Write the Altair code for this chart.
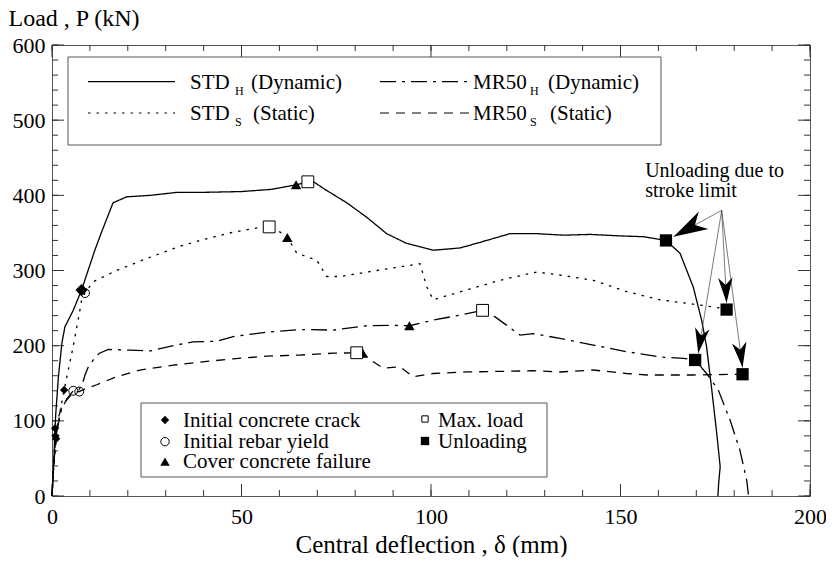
import math
import altair as alt
import pandas as pd

FONT = "Liberation Serif, Times New Roman, Times, serif"
W, H = 758, 451
XMAX, YMAX = 200, 600

# ---------------- data ----------------
std_h_x = [0, 0.5, 0.8, 1.0, 1.7, 2.6, 3.4, 5.6, 7.8, 11.3, 13, 16.1, 19.7, 26, 33, 40, 50, 58,
           64.4, 67.5, 69, 72, 77.8, 83, 88.3, 93.6, 100.6, 107.7, 114.7, 120.8, 128, 135, 142,
           150, 156, 162, 165.7, 169.2, 171.4, 172.7, 174, 175.4, 176.3, 175.9, 175.7]
std_h_y = [0, 50, 90, 110, 159, 203, 225, 247, 274, 327, 350, 390, 398, 400, 404, 404, 405, 408,
           414, 418, 418, 408, 390, 371, 349, 336, 327, 330, 340, 349, 349, 347, 348,
           346, 345, 340, 323, 278, 234, 199, 145, 83, 39, 17, 0]

std_s_x = [0, 0.5, 1.2, 2.1, 3.2, 4.3, 5.6, 6.9, 7.8, 8.7, 10.9, 17, 24, 33, 39, 47.8, 55.7, 57.3,
           60.2, 62.1, 64.6, 69.8, 72.5, 76, 85.7, 97.1, 98.9, 100.6, 105.9, 118.2, 127.9, 134,
           142.8, 151.6, 160.4, 171, 176.3, 178]
std_s_y = [0, 40, 80, 112, 141, 168, 199, 234, 260, 270, 285, 300, 314, 331, 340, 351, 358, 358,
           351, 344, 323, 314, 292, 292, 300, 309, 278, 261, 269, 287, 298, 294,
           287, 272, 261, 254, 250, 248]

mr50_h_x = [0, 0.6, 1.2, 2.5, 4, 5.6, 7.2, 8.2, 8.7, 9.6, 10.9, 12.5, 14.9, 20.6, 26, 32, 37.2,
            43.5, 47.8, 56.6, 65.4, 74.2, 83, 90, 94.3, 100.6, 107.7, 113.6, 117, 120, 123.5,
            127, 134, 142.8, 151.6, 160.4, 166.6, 169.7, 172.7, 175.8, 178.9, 181.5, 183.3, 183.8]
mr50_h_y = [0, 50, 85, 115, 130, 140, 142, 152, 161, 172, 181, 190, 195, 194, 193, 200, 205,
            206, 212, 218, 221.5, 220.7, 226.5, 227, 226.5, 234, 240.7, 247, 238, 227, 214,
            216, 209.7, 200.8, 192, 185, 183, 181, 163, 141, 101, 61, 21, 0]

mr50_s_x = [0, 0.5, 1, 1.7, 2.6, 3.9, 5.6, 7.2, 9, 11.8, 17, 23.2, 32, 40.8, 47.8, 56.6, 65.4,
            74.2, 80.4, 82, 84, 87.4, 91.8, 95.3, 100.6, 109.4, 127, 134, 142.8, 151.6, 157,
            169, 182.2]
mr50_s_y = [0, 45, 78, 105, 119, 128, 138, 139, 143, 148, 158.6, 167.6, 174, 179, 182.5, 186,
            187.5, 190, 190.6, 190, 181, 170, 172, 158.6, 163, 165, 166.6, 165, 167.6, 163, 161,
            161, 162]

series_names = ["STD_H", "STD_S", "MR50_H", "MR50_S"]
series_dash = [[1, 0], [2.5, 6], [16, 6, 3, 6], [9, 7]]

crack_x = [0.8, 0.9, 1.1, 3.2, 7.8]
crack_y = [90, 80, 76, 141, 274]
crack_size = [70, 70, 70, 70, 150]
yield_x = [5.6, 7.2, 8.7]
yield_y = [140, 139, 270]
cover_x = [64.4, 62.1, 94.3, 82]
cover_y = [414, 344, 226.5, 190]
maxload_x = [67.5, 57.3, 113.6, 80.4]
maxload_y = [418, 358, 247, 190.6]
unload_x = [162, 178, 169.7, 182.2]
unload_y = [340, 248, 181, 162]

arrow_from = (176.7, 380)
arrow_tip_x = [164, 178, 170.5, 182.2]
arrow_tip_y = [345, 257, 190, 171]
arrow_size = [1300, 700, 700, 700]

x_ticks = [0, 50, 100, 150, 200]
y_ticks = [0, 100, 200, 300, 400, 500, 600]

# ---------------- tables ----------------
rows = []
for name, xs, ys in zip(series_names, [std_h_x, std_s_x, mr50_h_x, mr50_s_x],
                        [std_h_y, std_s_y, mr50_h_y, mr50_s_y]):
    for i, (a, b) in enumerate(zip(xs, ys)):
        rows.append({"series": name, "x": a, "y": b, "order": i})
lines_df = pd.DataFrame(rows)

kx, ky = W / XMAX, H / YMAX
arr_rows = []
for tx, ty, s in zip(arrow_tip_x, arrow_tip_y, arrow_size):
    dx = (tx - arrow_from[0]) * kx
    dy = -(ty - arrow_from[1]) * ky
    ang = math.degrees(math.atan2(dx, -dy)) % 360
    arr_rows.append({"x": arrow_from[0], "y": arrow_from[1], "x2": tx, "y2": ty, "ang": ang, "s": s})
arr_df = pd.DataFrame(arr_rows)

xsc = alt.Scale(domain=[0, XMAX], nice=False, zero=False)
ysc = alt.Scale(domain=[0, YMAX], nice=False)

XAX = alt.Axis(
    values=x_ticks, ticks=False, domain=False, grid=False, labelFont=FONT, labelFontSize=22,
    labelColor="black", labelPadding=10, labelFlush=False,
    title="Central deflection , δ (mm)", titleFont=FONT, titleFontSize=25,
    titleFontWeight="normal", titleColor="black", titleY=56, titleBaseline="alphabetic")
YAX = alt.Axis(
    values=y_ticks, ticks=False, domain=False, grid=False, labelFont=FONT, labelFontSize=22,
    labelColor="black", labelPadding=7, labelFlush=False,
    title="Load , P (kN)", titleFont=FONT, titleFontSize=24, titleFontWeight="normal",
    titleColor="black", titleAngle=0, titleAlign="left", titleBaseline="alphabetic",
    titleX=-44, titleY=-20)


def X(f):
    return alt.X(f, scale=xsc, axis=XAX)


def Y(f):
    return alt.Y(f, scale=ysc, axis=YAX)


one = pd.DataFrame({"k": [0]})

# ---------------- layers ----------------
layers = []

# inward ticks (drawn from the tick value lists)
minor_x = pd.DataFrame({"v": list(range(0, 201, 10))})
major_x = pd.DataFrame({"v": x_ticks})
minor_y = pd.DataFrame({"v": list(range(0, 601, 20))})
major_y = pd.DataFrame({"v": y_ticks})
tick_col = "#333"
for df, ln in [(minor_x, 6), (major_x, 12)]:
    base = alt.Chart(df).mark_rule(color=tick_col, strokeWidth=1)
    layers.append(base.encode(x=X("v:Q"), y=alt.value(H), y2=alt.value(H - ln)))
    layers.append(base.encode(x=X("v:Q"), y=alt.value(0), y2=alt.value(ln)))
for df, ln in [(minor_y, 6), (major_y, 12)]:
    base = alt.Chart(df).mark_rule(color=tick_col, strokeWidth=1)
    layers.append(base.encode(y=Y("v:Q"), x=alt.value(0), x2=alt.value(ln)))
    layers.append(base.encode(y=Y("v:Q"), x=alt.value(W), x2=alt.value(W - ln)))

lines = alt.Chart(lines_df).mark_line(color="black", strokeWidth=1.3).encode(
    x=X("x:Q"),
    y=Y("y:Q"),
    strokeDash=alt.StrokeDash("series:N", scale=alt.Scale(domain=series_names, range=series_dash),
                              legend=None),
    detail="series:N",
    order="order:Q",
)
layers.append(lines)

# arrows
layers.append(alt.Chart(arr_df).mark_rule(color="#444", strokeWidth=0.7).encode(
    x=X("x:Q"), y=Y("y:Q"), x2="x2:Q", y2="y2:Q"))


# markers
def pts(xs, ys, **kw):
    return alt.Chart(pd.DataFrame({"x": xs, "y": ys})).mark_point(**kw).encode(
        x=X("x:Q"), y=Y("y:Q"))


layers.append(alt.Chart(pd.DataFrame({"x": crack_x, "y": crack_y, "s": crack_size})).mark_point(
    shape="diamond", filled=True, color="black", opacity=1).encode(
    x=X("x:Q"), y=Y("y:Q"), size=alt.Size("s:Q", scale=None)))
layers.append(pts(yield_x, yield_y, shape="circle", filled=False, color="black", size=80,
                  strokeWidth=1, opacity=1))
layers.append(pts(cover_x, cover_y, shape="triangle-up", filled=True, color="black", size=110,
                  opacity=1))
layers.append(pts(maxload_x, maxload_y, shape="square", filled=True, fill="white", stroke="black",
                  strokeWidth=1, size=140, opacity=1))
layers.append(pts(unload_x, unload_y, shape="square", filled=True, color="black", size=150,
                  opacity=1))

ARROW = "M0,0 L0.55,1.9 L0,1.35 L-0.55,1.9 Z"
layers.append(alt.Chart(arr_df).mark_point(shape=ARROW, filled=True, color="black", opacity=1).encode(
    x=X("x2:Q"), y=Y("y2:Q"),
    angle=alt.Angle("ang:Q", scale=None), size=alt.Size("s:Q", scale=None)))

# annotation
ann = pd.DataFrame({"x": [156.5, 156.5], "y": [424, 397.5], "t": ["Unloading due to", "stroke limit"]})
layers.append(alt.Chart(ann).mark_text(font=FONT, fontSize=20, align="left", baseline="alphabetic",
                                       color="black").encode(
    x=X("x:Q"), y=Y("y:Q"), text="t:N"))


# ---------------- hand-made legends ----------------
def box(x1, y1, x2, y2):
    return alt.Chart(one).mark_rect(fill="white", stroke="#555", strokeWidth=1).encode(
        x=alt.value(x1), x2=alt.value(x2), y=alt.value(y1), y2=alt.value(y2))


def ptext(px, py, s, size=21):
    return alt.Chart(one).mark_text(text=s, font=FONT, fontSize=size, align="left",
                                    baseline="alphabetic", color="black").encode(
        x=alt.value(px), y=alt.value(py))


def sample(x1, x2, y, dash):
    return alt.Chart(one).mark_rule(color="black", strokeWidth=1.2, strokeDash=dash).encode(
        x=alt.value(x1), x2=alt.value(x2), y=alt.value(y))


def lmark(px, py, **kw):
    return alt.Chart(one).mark_point(opacity=1, **kw).encode(x=alt.value(px), y=alt.value(py))


layers.append(box(16, 12, 609, 100))
layers.append(sample(36, 123, 36.7, series_dash[0]))
layers.append(sample(36, 123, 68, series_dash[1]))
layers.append(sample(328, 418, 36.7, series_dash[2]))
layers.append(sample(328, 418, 68, series_dash[3]))
for px, py, s, sz in [
    (138, 44, "STD", 21), (183, 50, "H", 12), (199, 44, "(Dynamic)", 21),
    (138, 75, "STD", 21), (183, 81, "S", 12), (201, 75, "(Static)", 21),
    (421, 44, "MR50", 21), (478, 50, "H", 12), (496, 44, "(Dynamic)", 21),
    (421, 75, "MR50", 21), (478, 81, "S", 12), (498, 75, "(Static)", 21),
]:
    layers.append(ptext(px, py, s, sz))

layers.append(box(89, 358, 495, 432))
layers.append(lmark(113, 375, shape="diamond", filled=True, color="black", size=70))
layers.append(lmark(113, 396.7, shape="circle", filled=False, color="black", size=70, strokeWidth=1))
layers.append(lmark(113, 416.7, shape="triangle-up", filled=True, color="black", size=90))
layers.append(lmark(373, 374, shape="square", filled=True, fill="white", stroke="black",
                    strokeWidth=1, size=40))
layers.append(lmark(373, 396, shape="square", filled=True, color="black", size=70))
for px, py, s in [(131, 381.5, "Initial concrete crack"), (131, 403, "Initial rebar yield"),
                  (131, 423, "Cover concrete failure"), (386, 381.5, "Max. load"),
                  (386, 403, "Unloading")]:
    layers.append(ptext(px, py, s, 21))

chart = alt.layer(*layers).properties(
    width=W, height=H,
    padding={"left": 44, "top": 37, "right": 16, "bottom": 61},
    autosize=alt.AutoSizeParams(type="none"),
    background="white",
).configure_view(stroke="#555", strokeWidth=1)

chart.save("out.html", embed_options={"renderer": "svg", "actions": False})
